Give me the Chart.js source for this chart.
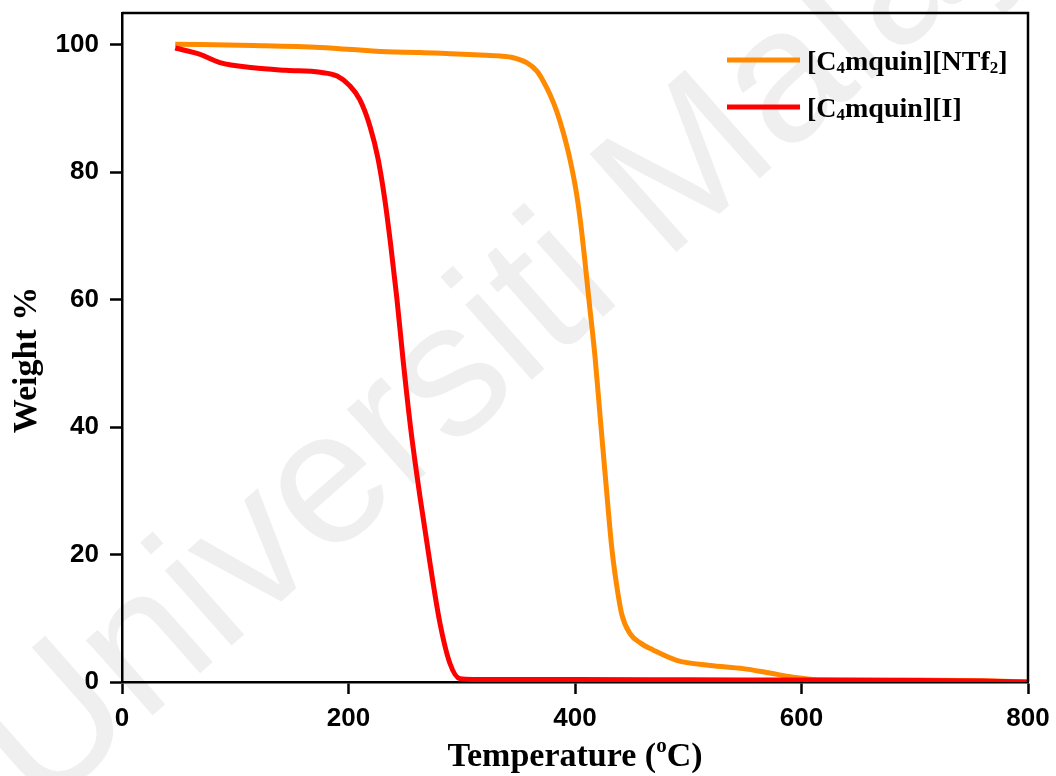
<!DOCTYPE html>
<html>
<head>
<meta charset="utf-8">
<title>TGA curves</title>
<script src="https://cdn.jsdelivr.net/npm/chart.js@4.4.1/dist/chart.umd.min.js"></script>
<style>
  html, body { margin: 0; padding: 0; background: #ffffff; }
  #wrap { width: 1056px; height: 776px; position: relative; }
</style>
</head>
<body>
<div id="wrap"><canvas id="tga" width="1056" height="776"></canvas></div>
<script>
// Thermogravimetric curves: weight (%) against temperature (°C)
const ntf2Temp = [47, 116, 175, 234, 263, 290, 316, 333.8, 345.5, 357.3, 366.2, 372, 377.9, 383.8, 389.7, 395.6, 401.5, 405, 408.5, 412, 417.7, 422.5, 427.5, 432.4, 435.3, 441.2, 448.6, 458, 469.2, 489.8, 519.2, 548.6, 569.2, 592.8, 607.5, 620, 700, 760, 800];
const ntf2Weight = [100.1, 99.9, 99.6, 98.9, 98.8, 98.6, 98.4, 98.24, 97.98, 97.2, 95.9, 94.3, 92.2, 89.6, 86.2, 82.0, 76.5, 72.0, 66.5, 60.5, 51.0, 41.0, 30.8, 21.2, 17.0, 10.7, 7.6, 6.1, 5.0, 3.4, 2.6, 2.1, 1.5, 0.75, 0.45, 0.35, 0.3, 0.2, 0.0];

const iodideTemp = [47, 69, 86.5, 116, 145, 175, 190, 201, 210, 219, 226, 232, 237, 242.6, 248.4, 255.2, 263.1, 272, 280.8, 289.6, 298.5, 310, 400, 500, 600, 700, 760, 800];
const iodideWeight = [99.5, 98.5, 97.2, 96.4, 96.0, 95.7, 95.1, 93.6, 91.4, 87.2, 82.2, 75.8, 69.0, 60.4, 50.2, 39.4, 29.1, 18.6, 9.2, 2.9, 0.5, 0.4, 0.4, 0.35, 0.3, 0.25, 0.15, 0.0];

const xTickValues = [0, 200, 400, 600, 800];
const yTickValues = [0, 20, 40, 60, 80, 100];

const seriesNames = [
  [{ t: '[C' }, { t: '4', sub: true }, { t: 'mquin][NTf' }, { t: '2', sub: true }, { t: ']' }],
  [{ t: '[C' }, { t: '4', sub: true }, { t: 'mquin][I]' }]
];
const seriesColors = ['#ff8a00', '#ff0000'];

const xTitle = [{ t: 'Temperature (' }, { t: 'o', sup: true }, { t: 'C)' }];
const yTitle = 'Weight %';
const watermark = 'Universiti Malaya';

const SERIF = "'Liberation Serif', 'Times New Roman', serif";
const SANS = "'Liberation Sans', Arial, sans-serif";

function toPoints(xs, ys) {
  return xs.map((x, i) => ({ x: x, y: ys[i] }));
}

// Draws a run of text pieces with optional sub/superscripts; returns width
function richText(ctx, pieces, x, y, size, measureOnly) {
  let cx = x;
  for (const p of pieces) {
    const small = p.sub || p.sup;
    const fs = small ? Math.round(size * 0.62) : size;
    ctx.font = 'bold ' + fs + 'px ' + SERIF;
    const dy = p.sub ? size * 0.12 : (p.sup ? -size * 0.42 : 0);
    if (!measureOnly) ctx.fillText(p.t, cx, y + dy);
    cx += ctx.measureText(p.t).width;
  }
  return cx - x;
}

const decorations = {
  id: 'decorations',
  beforeDraw(chart) {
    const ctx = chart.ctx;
    ctx.save();
    ctx.fillStyle = '#ffffff';
    ctx.fillRect(0, 0, chart.width, chart.height);
    // faint diagonal watermark
    ctx.translate(40, 815);
    ctx.rotate(-41.5 * Math.PI / 180);
    ctx.font = '190px ' + SANS;
    ctx.fillStyle = '#efefef';
    ctx.textBaseline = 'alphabetic';
    ctx.fillText(watermark, 0, 0);
    ctx.restore();
  },
  afterDraw(chart) {
    const ctx = chart.ctx;
    const a = chart.chartArea;
    ctx.save();
    // top and right frame lines
    ctx.strokeStyle = '#000000';
    ctx.lineWidth = 2.5;
    ctx.beginPath();
    ctx.moveTo(a.left, a.top);
    ctx.lineTo(a.right, a.top);
    ctx.lineTo(a.right, a.bottom);
    ctx.stroke();

    // legend
    ctx.textBaseline = 'alphabetic';
    const rows = [60, 107];
    rows.forEach((ly, i) => {
      ctx.strokeStyle = seriesColors[i];
      ctx.lineWidth = 5;
      ctx.lineCap = 'butt';
      ctx.beginPath();
      ctx.moveTo(727, ly);
      ctx.lineTo(800, ly);
      ctx.stroke();
      ctx.fillStyle = '#000000';
      richText(ctx, seriesNames[i], 807, ly + 10, 28);
    });

    // x axis title
    const size = 34;
    ctx.fillStyle = '#000000';
    const w = richText(ctx, xTitle, 0, 0, size, true);
    richText(ctx, xTitle, (a.left + a.right) / 2 - w / 2, 766, size);

    // y axis title
    ctx.save();
    ctx.translate(36, 360);
    ctx.rotate(-Math.PI / 2);
    ctx.font = 'bold 34px ' + SERIF;
    ctx.textAlign = 'center';
    ctx.fillText(yTitle, 0, 0);
    ctx.restore();
    ctx.restore();
  }
};

const lineStyle = {
  borderWidth: 5,
  pointRadius: 0,
  pointHoverRadius: 0,
  fill: false,
  cubicInterpolationMode: 'monotone'
};

new Chart(document.getElementById('tga'), {
  type: 'line',
  data: {
    datasets: [
      Object.assign({ label: '[C4mquin][I]', data: toPoints(iodideTemp, iodideWeight), borderColor: seriesColors[1] }, lineStyle),
      Object.assign({ label: '[C4mquin][NTf2]', data: toPoints(ntf2Temp, ntf2Weight), borderColor: seriesColors[0] }, lineStyle)
    ]
  },
  options: {
    responsive: false,
    animation: false,
    devicePixelRatio: 1,
    layout: { padding: { top: 13, right: 28, left: 0, bottom: 0 } },
    plugins: { legend: { display: false }, tooltip: { enabled: false } },
    scales: {
      x: {
        type: 'linear',
        min: 0,
        max: 800,
        afterBuildTicks: s => { s.ticks = xTickValues.map(v => ({ value: v })); },
        afterFit: s => { s.height = 94; s.paddingLeft = 0; s.paddingRight = 0; },
        border: { display: true, color: '#000000', width: 2.5 },
        grid: { display: true, drawOnChartArea: false, drawTicks: true, tickLength: 12, tickWidth: 2.5, tickColor: '#000000' },
        ticks: { color: '#000000', padding: 9, maxRotation: 0, font: { family: SANS, size: 26, weight: 'bold' } }
      },
      y: {
        type: 'linear',
        min: 0,
        max: 105,
        afterBuildTicks: s => { s.ticks = yTickValues.map(v => ({ value: v })); },
        afterFit: s => { s.width = 122; s.paddingTop = 0; s.paddingBottom = 0; },
        border: { display: true, color: '#000000', width: 2.5 },
        grid: { display: true, drawOnChartArea: false, drawTicks: true, tickLength: 12, tickWidth: 2.5, tickColor: '#000000' },
        ticks: { color: '#000000', padding: 11, font: { family: SANS, size: 26, weight: 'bold' } }
      }
    }
  },
  plugins: [decorations]
});
</script>
</body>
</html>
